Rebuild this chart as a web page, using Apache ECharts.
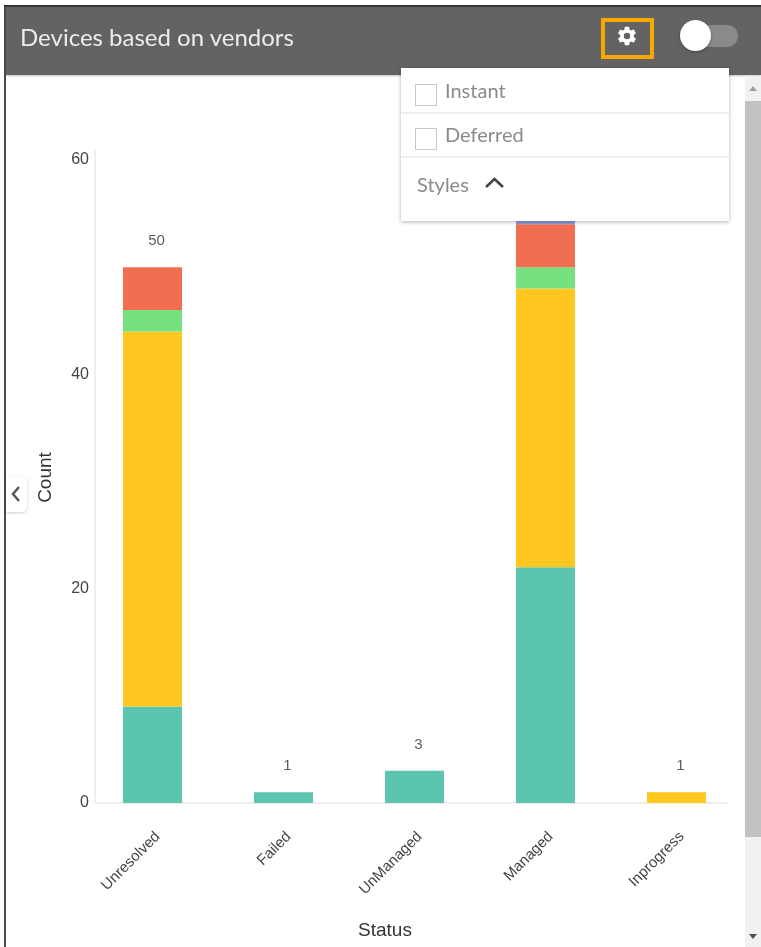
<!DOCTYPE html>
<html>
<head>
<meta charset="utf-8">
<title>Devices based on vendors</title>
<script src="https://cdn.jsdelivr.net/npm/echarts@6/dist/echarts.min.js"></script>
<style>
html,body{margin:0;padding:0;background:#fff;width:761px;height:947px;overflow:hidden}
#chart{position:absolute;left:0;top:0;width:761px;height:947px}
.abs{position:absolute;box-sizing:border-box}
#frameL{left:4px;top:5px;width:2px;height:942px;background:#4a4a4a}
#frameT{left:4px;top:5px;width:757px;height:2px;background:#333}
#header{left:6px;top:7px;width:755px;height:68px;background:#636363;box-shadow:0 1px 2px rgba(0,0,0,.25)}
#title{left:20px;top:22px;font:24px Lato,sans-serif;color:#ececec;line-height:30px;white-space:nowrap}
#gearBox{left:601px;top:18px;width:53px;height:41px;border:4px solid #f5a800}
#gear{left:616px;top:25px;width:22px;height:22px}
#track{left:690px;top:25px;width:48px;height:22px;border-radius:11px;background:#8a8a8a}
#knob{left:680px;top:20px;width:31px;height:31px;border-radius:50%;background:#fff;box-shadow:0 1px 3px rgba(0,0,0,.35)}
#panel{left:401px;top:68px;width:328px;height:153px;background:#fff;box-shadow:0 1px 4px rgba(0,0,0,.3)}
.div{left:401px;width:328px;height:2px;background:#f0f0f0}
.cb{left:415px;width:22px;height:22px;border:1.5px solid #c8c8c8;background:#fff}
.opt{font:20px Lato,sans-serif;color:#8a8a8a;line-height:26px;white-space:nowrap}
#scrollTrack{left:745px;top:76px;width:16px;height:871px;background:#f1f1f1}
#scrollThumb{left:745px;top:101px;width:16px;height:736px;background:#c1c1c1}
#tab{left:6px;top:476px;width:21px;height:36px;background:#fff;border-radius:0 5px 5px 0;box-shadow:0 1px 3px rgba(0,0,0,.2)}
</style>
</head>
<body>
<div id="chart"></div>
<div class="abs" id="frameL"></div>
<div class="abs" id="header"></div>
<div class="abs" id="frameT"></div>
<div class="abs" id="title">Devices based on vendors</div>
<div class="abs" id="gearBox"></div>
<svg class="abs" id="gear" viewBox="0 0 24 24"><path fill="#fff" d="M19.4 13c.04-.33.06-.66.06-1s-.02-.67-.06-1l2.1-1.65c.19-.15.24-.42.12-.64l-2-3.46c-.12-.22-.38-.3-.6-.22l-2.49 1c-.52-.4-1.08-.73-1.69-.98l-.38-2.65A.49.49 0 0 0 14 2h-4c-.25 0-.46.18-.49.42l-.38 2.65c-.61.25-1.17.59-1.69.98l-2.49-1c-.23-.09-.49 0-.61.22l-2 3.46c-.13.22-.07.49.12.64L4.57 11c-.04.33-.07.67-.07 1s.03.67.07 1l-2.11 1.65c-.19.15-.24.42-.12.64l2 3.46c.12.22.38.3.61.22l2.49-1c.52.4 1.08.73 1.69.98l.38 2.65c.03.24.24.42.49.42h4c.25 0 .46-.18.49-.42l.38-2.65c.61-.25 1.17-.59 1.69-.98l2.49 1c.23.09.49 0 .61-.22l2-3.46c.12-.22.07-.49-.12-.64L19.4 13zM12 15.5a3.5 3.5 0 1 1 0-7 3.5 3.5 0 0 1 0 7z"/></svg>
<div class="abs" id="track"></div>
<div class="abs" id="knob"></div>
<div class="abs" id="scrollTrack"></div>
<div class="abs" id="scrollThumb"></div>
<svg class="abs" style="left:745px;top:82px;width:16px;height:12px" viewBox="0 0 16 12"><path fill="#a0a0a0" d="M4 9 L8 4 L12 9 Z"/></svg>
<svg class="abs" style="left:745px;top:930px;width:16px;height:12px" viewBox="0 0 16 12"><path fill="#505050" d="M4 4 L12 4 L8 9 Z"/></svg>
<div class="abs" id="panel"></div>
<div class="abs div" style="top:112px"></div>
<div class="abs div" style="top:156px"></div>
<div class="abs cb" style="top:84px"></div>
<div class="abs cb" style="top:128px"></div>
<div class="abs opt" style="left:445px;top:77px">Instant</div>
<div class="abs opt" style="left:445px;top:121px">Deferred</div>
<div class="abs opt" style="left:417px;top:171px">Styles</div>
<svg class="abs" style="left:483px;top:174px;width:23px;height:16px" viewBox="0 0 23 16"><path fill="none" stroke="#444" stroke-width="2.6" d="M3 13 L11.5 5 L20 13"/></svg>
<div class="abs" id="tab"></div>
<svg class="abs" style="left:8px;top:484px;width:16px;height:20px" viewBox="0 0 16 20"><path fill="none" stroke="#555" stroke-width="2.4" d="M11 3 L5 10 L11 17"/></svg>
<script>
var categories = ['Unresolved', 'Failed', 'UnManaged', 'Managed', 'Inprogress'];
var tealValues   = [9, 1, 3, 22, 0];
var yellowValues = [35, 0, 0, 26, 1];
var greenValues  = [2, 0, 0, 2, 0];
var redValues    = [4, 0, 0, 4, 0];
var purpleValues = [0, 0, 0, 1, 0];
var totals       = [50, 1, 3, 55, 1];
var yTicks = {min: 0, max: 60, interval: 20};

var axisFont = 'Liberation Sans, Arial, sans-serif';
function stack(name, data, color) {
  return {name: name, type: 'bar', stack: 'status', data: data, barWidth: 59,
    itemStyle: {color: color}, xAxisIndex: 0, yAxisIndex: 0, animation: false};
}
var chart = echarts.init(document.getElementById('chart'), null, {renderer: 'canvas'});
chart.setOption({
  animation: false,
  backgroundColor: '#fff',
  grid: [
    {left: 87, width: 655, top: 160, height: 643, outerBoundsMode: 'none'},
    {left: 95, width: 632, top: 151, height: 652, outerBoundsMode: 'none'}
  ],
  xAxis: [
    {type: 'category', gridIndex: 0, data: categories,
     axisLine: {show: false}, axisTick: {show: false},
     axisLabel: {rotate: 45, fontFamily: axisFont, fontSize: 15, color: '#444', margin: 26, interval: 0, verticalAlign: 'top'},
     name: 'Status', nameLocation: 'middle', nameGap: 118,
     nameTextStyle: {fontFamily: axisFont, fontSize: 19, color: '#333', padding: [0, 59, 0, 0]}},
    {type: 'value', gridIndex: 1, min: 0, max: 1,
     axisLine: {show: true, onZero: false, lineStyle: {color: '#eeeeee', width: 2}},
     axisTick: {show: false}, axisLabel: {show: false}, splitLine: {show: false}}
  ],
  yAxis: [
    {type: 'value', gridIndex: 0, min: yTicks.min, max: yTicks.max, interval: yTicks.interval,
     offset: -8,
     axisLine: {show: false}, axisTick: {show: false}, splitLine: {show: false},
     axisLabel: {fontFamily: axisFont, fontSize: 16, color: '#444', margin: 6, padding: [0, 0, 4, 0]},
     name: 'Count', nameLocation: 'middle', nameGap: 40,
     nameTextStyle: {fontFamily: axisFont, fontSize: 19, color: '#333', padding: [0, 0, 0, 8]}},
    {type: 'value', gridIndex: 1, min: 0, max: 1,
     axisLine: {show: true, onZero: false, lineStyle: {color: '#eeeeee', width: 2}},
     axisTick: {show: false}, axisLabel: {show: false}, splitLine: {show: false}}
  ],
  series: [
    stack('Teal', tealValues, '#5bc5b0'),
    stack('Yellow', yellowValues, '#ffc720'),
    stack('Green', greenValues, '#77e07f'),
    stack('Red', redValues, '#f26e50'),
    stack('Purple', purpleValues, '#8f9bd8'),
    {name: 'Total', type: 'scatter', data: totals, xAxisIndex: 0, yAxisIndex: 0,
     symbolSize: 1, itemStyle: {color: 'rgba(0,0,0,0)'}, silent: true,
     label: {show: true, position: 'top', distance: 18, offset: [4, 0],
       fontFamily: axisFont, fontSize: 15, color: '#333'}}
  ]
});
</script>
</body>
</html>
